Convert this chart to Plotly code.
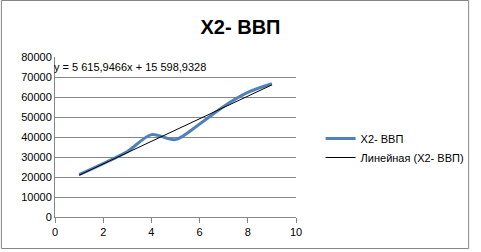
import numpy as np
import plotly.graph_objects as go

x_vals = [1, 2, 3, 4, 5, 6, 7, 8, 9]
gdp = [21200, 26700, 32700, 41200, 38700, 46500, 55300, 62300, 66600]
series_name = "X2- ВВП"
trend_name = "Линейная (X2- ВВП)"
equation = "y = 5 615,9466x + 15 598,9328"
x_ticks = [0, 2, 4, 6, 8, 10]
y_ticks = [0, 10000, 20000, 30000, 40000, 50000, 60000, 70000, 80000]
y_tick_text = [str(v) for v in y_ticks]

slope, intercept = np.polyfit(x_vals, gdp, 1)
trend = [slope * v + intercept for v in x_vals]

W, H = 481, 252
L, R, T, B = 55, 181, 57, 35
pw, ph = W - L - R, H - T - B

fig = go.Figure()
fig.add_trace(go.Scatter(x=x_vals, y=gdp, mode="lines", name=series_name,
                         line=dict(color="#4F81BD", width=3, shape="spline", smoothing=0.8)))
fig.add_trace(go.Scatter(x=[x_vals[0], x_vals[-1]], y=[trend[0], trend[-1]], mode="lines",
                         name=trend_name, line=dict(color="#000000", width=1)))

font = "Liberation Sans, Arial, sans-serif"
fig.update_layout(
    width=W, height=H,
    margin=dict(l=L, r=R, t=T, b=B),
    paper_bgcolor="white", plot_bgcolor="white",
    title=dict(text="<b>" + series_name + "</b>", x=0.5, xanchor="center", y=1 - 27 / H, yanchor="middle",
               font=dict(family=font, size=20, color="#000000")),
    xaxis=dict(range=[0, 10], tickvals=x_ticks, showgrid=False, zeroline=False,
               showline=True, linecolor="#868686", linewidth=1,
               ticks="outside", ticklen=5, tickcolor="#868686",
               tickfont=dict(family=font, size=11, color="#000000")),
    yaxis=dict(range=[0, 80000], tickvals=y_ticks, ticktext=y_tick_text, showgrid=True,
               gridcolor="#868686", gridwidth=1,
               zeroline=False, showline=True, linecolor="#868686", linewidth=1,
               ticks="", tickfont=dict(family=font, size=11, color="#000000")),
    legend=dict(x=(325 - L) / pw, y=(T + ph - 148) / ph, xanchor="left", yanchor="middle",
                font=dict(family=font, size=11, color="#000000"), bgcolor="rgba(0,0,0,0)",
                itemwidth=30, tracegroupgap=4),
    showlegend=True,
    annotations=[dict(text=equation, xref="paper", yref="paper", x=(52 - L) / pw, y=(T + ph - 67) / ph,
                      xanchor="left", yanchor="middle", showarrow=False,
                      font=dict(family=font, size=11, color="#000000"))],
    shapes=[dict(type="rect", xref="paper", yref="paper",
                 x0=(0.5 - L) / pw, x1=(475.5 - L) / pw,
                 y0=(T + ph - 248.5) / ph, y1=(T + ph - 0.5) / ph,
                 line=dict(color="#868686", width=1), layer="below")],
)

fig.write_html("out.html")
